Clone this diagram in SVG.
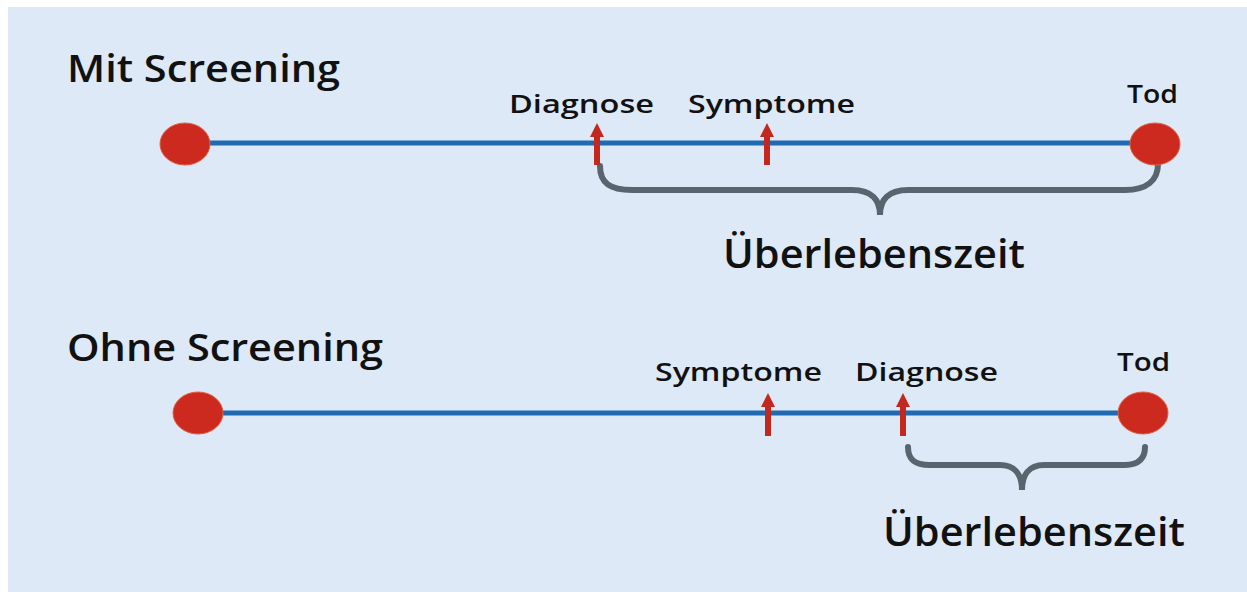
<svg xmlns="http://www.w3.org/2000/svg" width="1247" height="592" viewBox="0 0 1247 592">
<defs>
<style>
.t{font-family:"Open Sans","Liberation Sans",sans-serif;font-weight:600;fill:#111}
.h{font-size:37px}
.l{font-size:26px}
.b{font-size:40px}
.line{stroke:#1f6ab3;stroke-width:5;fill:none}
.dot{fill:#cc2a1f;stroke:#e06040;stroke-width:1}
.arr{stroke:#c2281e;stroke-width:6;fill:none}
.brace{stroke:#59656e;stroke-width:6;fill:none;stroke-linecap:round}
</style>
<marker id="ah" viewBox="0 0 14 14" refX="2" refY="7" markerWidth="14" markerHeight="14" markerUnits="userSpaceOnUse" orient="auto">
<path d="M0,0 L14,7 L0,14 Z" fill="#c2281e"/>
</marker>
</defs>
<rect x="0" y="0" width="1247" height="592" fill="#ffffff"/>
<rect x="8" y="7" width="1239" height="585" fill="#dde9f7"/>
<g id="connectors">
<line class="line" x1="185" y1="143" x2="1155" y2="143"/>
<line class="line" x1="198" y1="413" x2="1143" y2="413"/>
<path class="brace" d="M600,166 C600,183 610,190 632,190 L852,190 C872,190 880,200 880,215 C880,200 888,190 908,190 L1125,190 C1147,190 1158,180 1158,164"/>
<path class="brace" d="M908,447 C908,459 914,465 930,465 L1000,465 C1015,465 1022,475 1022,490 C1022,475 1029,465 1044,465 L1125,465 C1139,465 1145,458 1145,447"/>
</g>
<g id="mit">
<text class="t h" x="67" y="82" textLength="273" lengthAdjust="spacingAndGlyphs">Mit Screening</text>
<ellipse class="dot" cx="185" cy="144" rx="25" ry="21"/>
<ellipse class="dot" cx="1155" cy="144" rx="25" ry="21"/>
<line class="arr" x1="597" y1="165" x2="597" y2="135" marker-end="url(#ah)"/>
<line class="arr" x1="767" y1="165" x2="767" y2="135" marker-end="url(#ah)"/>
<text class="t l" x="509" y="113" textLength="145" lengthAdjust="spacingAndGlyphs">Diagnose</text>
<text class="t l" x="688" y="113" textLength="167" lengthAdjust="spacingAndGlyphs">Symptome</text>
<text class="t l" x="1127" y="103" textLength="51" lengthAdjust="spacingAndGlyphs">Tod</text>
<text class="t b" x="723" y="268" textLength="302" lengthAdjust="spacingAndGlyphs">Überlebenszeit</text>
</g>
<g id="ohne">
<text class="t h" x="67" y="361" textLength="316" lengthAdjust="spacingAndGlyphs">Ohne Screening</text>
<ellipse class="dot" cx="198" cy="413" rx="25" ry="21"/>
<ellipse class="dot" cx="1143" cy="413" rx="25" ry="21"/>
<line class="arr" x1="768" y1="436" x2="768" y2="405" marker-end="url(#ah)"/>
<line class="arr" x1="903" y1="436" x2="903" y2="405" marker-end="url(#ah)"/>
<text class="t l" x="655" y="381" textLength="167" lengthAdjust="spacingAndGlyphs">Symptome</text>
<text class="t l" x="855" y="381" textLength="143" lengthAdjust="spacingAndGlyphs">Diagnose</text>
<text class="t l" x="1117" y="371" textLength="53" lengthAdjust="spacingAndGlyphs">Tod</text>
<text class="t b" x="883" y="546" textLength="302" lengthAdjust="spacingAndGlyphs">Überlebenszeit</text>
</g>
</svg>
